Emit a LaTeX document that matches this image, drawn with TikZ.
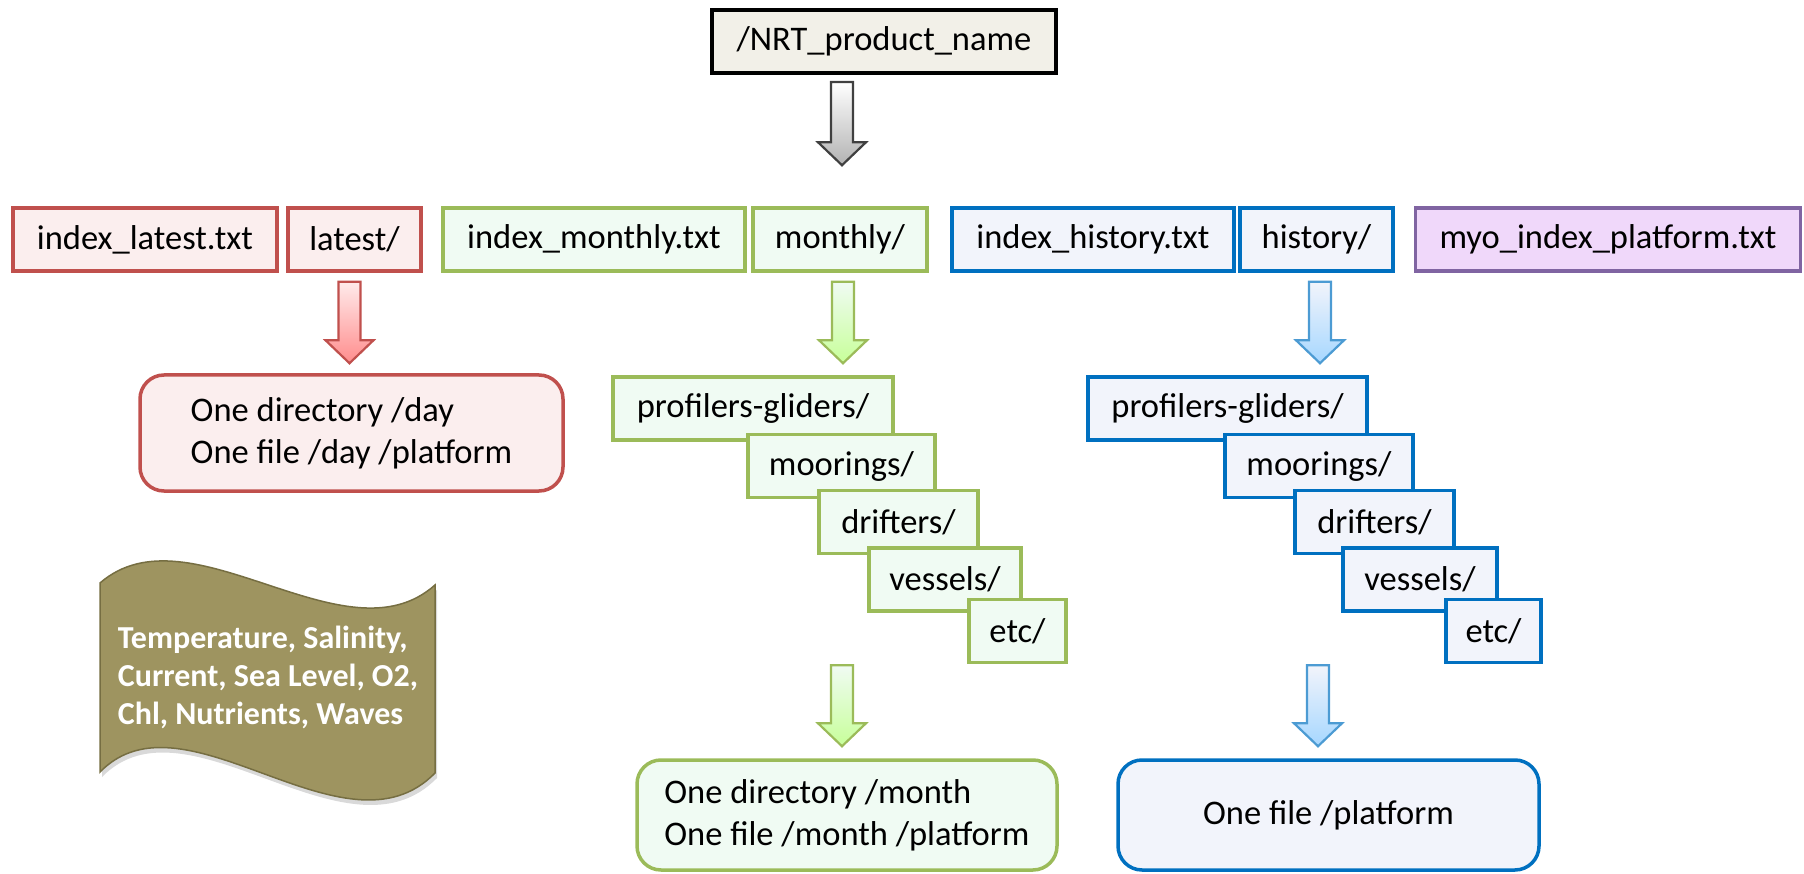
\documentclass[tikz,border=0pt]{standalone}
\usepackage{fontspec}
\setmainfont{Carlito}
\usetikzlibrary{calc}
\usetikzlibrary{shadows}

\definecolor{redLine}{RGB}{192,80,77}
\definecolor{redFill}{RGB}{251,238,238}
\definecolor{greenLine}{RGB}{155,187,89}
\definecolor{greenFill}{RGB}{240,251,243}
\definecolor{blueLine}{RGB}{0,112,192}
\definecolor{blueFill}{RGB}{242,244,251}
\definecolor{violetLine}{RGB}{128,100,162}
\definecolor{violetFill}{RGB}{240,216,250}
\definecolor{rootFill}{RGB}{242,240,232}
\definecolor{waveFill}{RGB}{158,148,96}
\definecolor{waveLine}{RGB}{118,110,66}

\newcommand{\fatArrow}[3]{%
  \path[#1] ($(#2)+(-11,0)$) -- ($(#3)+(-11,-23)$) -- ($(#3)+(-24,-23)$) -- (#3)
    -- ($(#3)+(24,-23)$) -- ($(#3)+(11,-23)$) -- ($(#2)+(11,0)$) -- cycle;}

\begin{document}
\begin{tikzpicture}[x=1pt, y=-1pt, font=\fontsize{34.5}{42}\selectfont]
	\tikzstyle{boxStyle} = [shape = rectangle, line width = 3.5pt, inner sep = 0pt, minimum height = 63pt]
	\tikzstyle{roundStyle} = [shape = rectangle, rounded corners = 24pt, line width = 3.5pt, inner sep = 0pt, align = left]
	\tikzstyle{redStyle} = [draw = redLine, fill = redFill]
	\tikzstyle{greenStyle} = [draw = greenLine, fill = greenFill]
	\tikzstyle{blueStyle} = [draw = blueLine, fill = blueFill]
	\tikzstyle{violetStyle} = [draw = violetLine, fill = violetFill]
	\tikzstyle{grayArrow} = [draw = black!75, line width = 2.2pt, top color = white, bottom color = black!30]
	\tikzstyle{redArrow} = [draw = redLine, line width = 2.2pt, top color = red!8, bottom color = red!45]
	\tikzstyle{greenArrow} = [draw = greenLine, line width = 2.2pt, top color = greenFill, bottom color = green!55!yellow!40]
	\tikzstyle{blueArrow} = [draw = blueLine!70, line width = 2.2pt, top color = blueFill, bottom color = blue!45!cyan!35]
	\useasboundingbox (0,0) rectangle (1804,874);
	\node[boxStyle, draw = black, fill = rootFill, line width = 4pt, minimum width = 344pt] (nrt) at (884,41.5) {/NRT\_product\_name};
	\node[boxStyle, redStyle, minimum width = 264pt] (ilat) at (145,239.5) {index\_latest.txt};
	\node[boxStyle, redStyle, minimum width = 133pt] (lat) at (354.5,239.5) {latest/};
	\node[boxStyle, greenStyle, minimum width = 302pt] (imon) at (594,239.5) {index\_monthly.txt};
	\node[boxStyle, greenStyle, minimum width = 174pt] (mon) at (840,239.5) {monthly/};
	\node[boxStyle, blueStyle, minimum width = 282pt] (ihis) at (1093,239.5) {index\_history.txt};
	\node[boxStyle, blueStyle, minimum width = 153pt] (his) at (1316.5,239.5) {history/};
	\node[boxStyle, violetStyle, minimum width = 385pt] (myo) at (1608,239.5) {myo\_index\_platform.txt};
	\node[roundStyle, redStyle, minimum width = 423pt, minimum height = 116pt] (day) at (351.5,433) {One directory /day\\One file /day /platform};
	\node[boxStyle, greenStyle, minimum width = 280pt] (gpro) at (753,408.5) {profilers-gliders/};
	\node[boxStyle, greenStyle, minimum width = 187pt] (gmoo) at (841.5,466) {moorings/};
	\node[boxStyle, greenStyle, minimum width = 159pt] (gdri) at (898.5,522) {drifters/};
	\node[boxStyle, greenStyle, minimum width = 152pt] (gves) at (945,579.5) {vessels/};
	\node[boxStyle, greenStyle, minimum width = 97pt] (getc) at (1017.5,631) {etc/};
	\node[boxStyle, blueStyle, minimum width = 279pt] (bpro) at (1227.5,408.5) {profilers-gliders/};
	\node[boxStyle, blueStyle, minimum width = 188pt] (bmoo) at (1319,466) {moorings/};
	\node[boxStyle, blueStyle, minimum width = 159pt] (bdri) at (1374.5,522) {drifters/};
	\node[boxStyle, blueStyle, minimum width = 154pt] (bves) at (1420,579.5) {vessels/};
	\node[boxStyle, blueStyle, minimum width = 95pt] (betc) at (1493.5,631) {etc/};
	\node[roundStyle, greenStyle, minimum width = 420pt, minimum height = 110pt] (month) at (847,815) {One directory /month\\One file /month /platform};
	\node[roundStyle, blueStyle, minimum width = 421pt, minimum height = 110pt] (plat) at (1328.5,815) {One file /platform};
	\coordinate (a0) at ($(nrt.south)+(-42,7)$);
	\coordinate (a0e) at ($(a0 |- mon.north)+(0,-41)$);
	\coordinate (ra) at ($(lat.south)+(-5,9)$);
	\coordinate (rae) at ($(ra |- day.north)+(0,-10)$);
	\coordinate (ga) at ($(mon.south)+(3,9)$);
	\coordinate (gae) at ($(ga |- gpro.north)+(0,-12)$);
	\coordinate (ba) at ($(his.south)+(3.5,9)$);
	\coordinate (bae) at ($(ba |- bpro.north)+(0,-12)$);
	\coordinate (gb) at ($(month.north |- getc.south)+(-5,1)$);
	\coordinate (gbe) at ($(gb |- month.north)+(0,-12)$);
	\coordinate (bb) at ($(plat.north |- betc.south)+(-10.5,1)$);
	\coordinate (bbe) at ($(bb |- plat.north)+(0,-12)$);
	\fatArrow{grayArrow}{a0}{a0e}
	\fatArrow{redArrow}{ra}{rae}
	\fatArrow{greenArrow}{ga}{gae}
	\fatArrow{blueArrow}{ba}{bae}
	\fatArrow{greenArrow}{gb}{gbe}
	\fatArrow{blueArrow}{bb}{bbe}
	\path[fill = waveFill, draw = waveLine, line width = 1.5pt, drop shadow = {opacity = 0.3, shadow xshift = 2pt, shadow yshift = -5pt}]
		(100,583) .. controls (190,505) and (345,665) .. (435,585) -- (435,773)
		.. controls (345,865) and (185,685) .. (100,772) -- cycle;
	\node[align = left, text = white, font = \fontsize{32}{38}\selectfont\bfseries] (params) at (268,677) {Temperature, Salinity,\\Current, Sea Level, O2,\\Chl, Nutrients, Waves};
\end{tikzpicture}
\end{document}
